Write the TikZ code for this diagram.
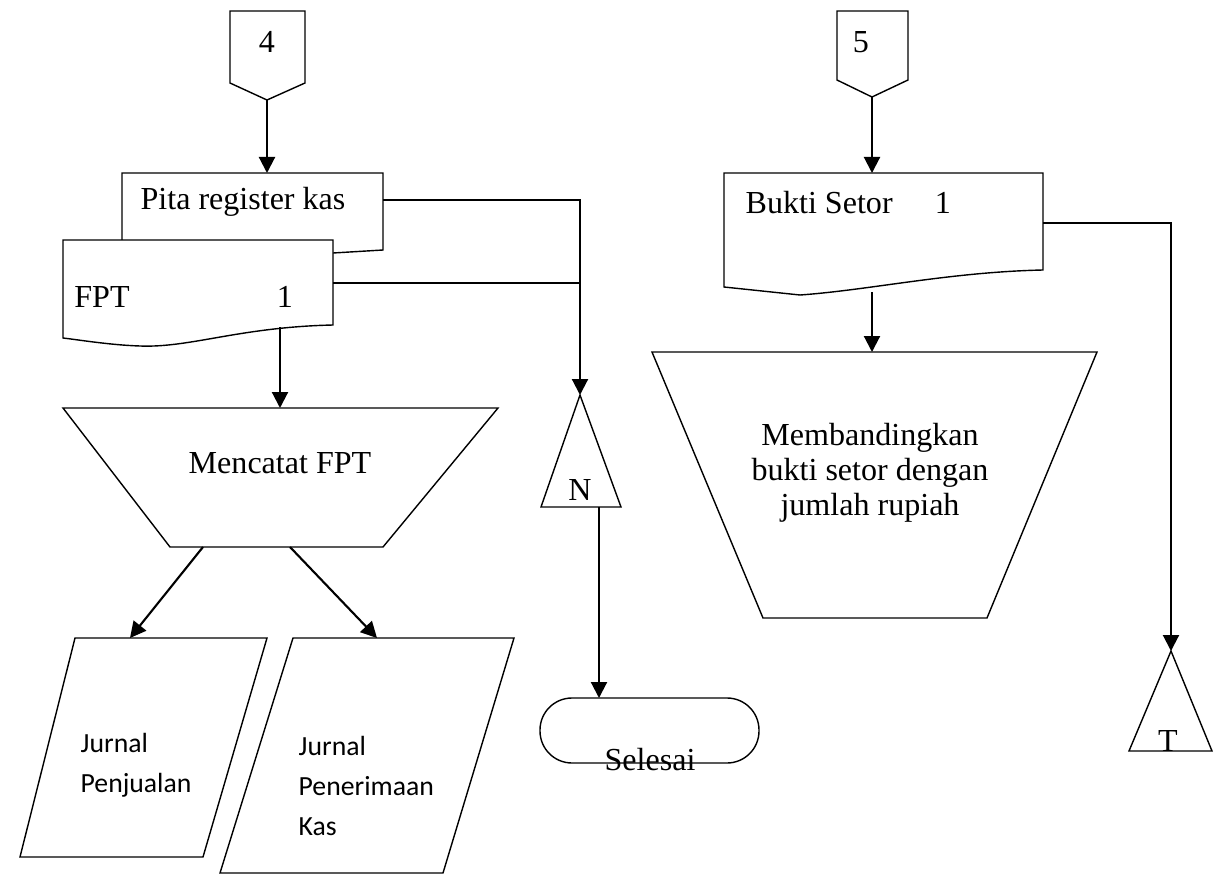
\documentclass[tikz,border=0pt]{standalone}
\usepackage{fontspec}
\setmainfont{Liberation Serif}
\newfontfamily\jurnalfont{Carlito}
\usetikzlibrary{positioning}
\usetikzlibrary{calc}
\usetikzlibrary{arrows.meta}

\begin{document}
\begin{tikzpicture}[x=0.025cm, y=-0.025cm, line width=1pt,
    font=\fontsize{22.8}{25}\selectfont,
    txt/.style={inner sep=0pt},
    jtxt/.style={inner sep=0pt, anchor=west, align=left,
        font=\jurnalfont\fontsize{19.7}{28.5}\selectfont},
    flow/.style={line width=1.5pt, -{Triangle[length=0.4cm,width=0.4cm]}}]
    \useasboundingbox (0,0) rectangle (1219,875);

    % off-page connectors
    \coordinate (C4) at (267,100);
    \coordinate (C5) at (872,97);
    \draw (230,11) -- (305,11) -- (305,83) -- (C4) -- (230,83) -- cycle;
    \draw (837,11) -- (908,11) -- (908,80) -- (C5) -- (837,80) -- cycle;
    \node[txt] (n4) at (267,42) {4};
    \node[txt] (n5) at (861,42) {5};

    % documents
    \coordinate (PitaN) at (267,173);
    \coordinate (PitaE) at (383,200);
    \draw (122,240) -- (122,173) -- (383,173) -- (383,250) -- (333,253);
    \node[txt] (pita) at (243,202) {Pita register kas};

    \coordinate (FptE) at (333,283);
    \coordinate (FptS) at (280,327);
    \draw[fill=white] (63,240) -- (333,240) -- (333,325)
        .. controls (240,327) and (190,348) .. (140,346)
        .. controls (110,345) and (80,340) .. (63,338) -- cycle;
    \node[txt] (fpt) at (102,297) {FPT};
    \node[txt] (fpt1) at (285,297) {1};

    \coordinate (BuktiN) at (872,173);
    \coordinate (BuktiE) at (1043,223);
    \coordinate (BuktiS) at (872,292);
    \draw (724,173) -- (1043,173) -- (1043,270)
        .. controls (950,272) and (870,290) .. (800,295) -- (724,287) -- cycle;
    \node[txt, anchor=west] (bukti) at (745,203) {Bukti Setor};
    \node[txt] (bukti1) at (943,203) {1};

    % manual operations
    \coordinate (CatatN) at (280,408);
    \coordinate (CatatSW) at (203,547);
    \coordinate (CatatSE) at (290,547);
    \draw (63,408) -- (498,408) -- (383,547) -- (170,547) -- cycle;
    \node[txt] (catat) at (280,463) {Mencatat FPT};

    \coordinate (BandingN) at (872,352);
    \draw (652,352) -- (1097,352) -- (987,618) -- (763,618) -- cycle;
    \node[txt, align=center] (banding) at (870,473)
        {Membandingkan\\bukti setor dengan\\jumlah rupiah};

    % journals
    \coordinate (JualN) at (130,638);
    \coordinate (TerimaN) at (377,638);
    \draw (75,638) -- (267,638) -- (203,857) -- (20,857) -- cycle;
    \draw (293,638) -- (514,638) -- (443,873) -- (220,873) -- cycle;
    \node[jtxt] (jual) at (80,765) {Jurnal\\Penjualan};
    \node[jtxt] (terima) at (298,786) {Jurnal\\Penerimaan\\Kas};

    % files
    \coordinate (NTop) at (580,395);
    \coordinate (NS) at (599,507);
    \coordinate (TTop) at (1171,651);
    \draw (NTop) -- (621,507) -- (541,507) -- cycle;
    \draw (TTop) -- (1212,751) -- (1129,751) -- cycle;
    \node[txt] (fileN) at (580,490) {N};
    \node[txt] (fileT) at (1168,741) {T};

    % terminator
    \coordinate (SelesaiN) at (599,698);
    \draw[rounded corners=0.8cm] (540,698) rectangle (759,763);
    \node[txt] (selesai) at (650,760) {Selesai};

    % flows
    \draw[flow] (C4) -- (PitaN);
    \draw[flow] (C5) -- (BuktiN);
    \draw[flow] (PitaE) -| (NTop);
    \draw (FptE) -- (FptE -| NTop);
    \draw[flow] (FptS) -- (CatatN);
    \draw[flow] (CatatSW) -- (JualN);
    \draw[flow] (CatatSE) -- (TerimaN);
    \draw[flow] (NS) -- (SelesaiN);
    \draw[flow] (BuktiS) -- (BandingN);
    \draw[flow] (BuktiE) -| (TTop);
\end{tikzpicture}
\end{document}
